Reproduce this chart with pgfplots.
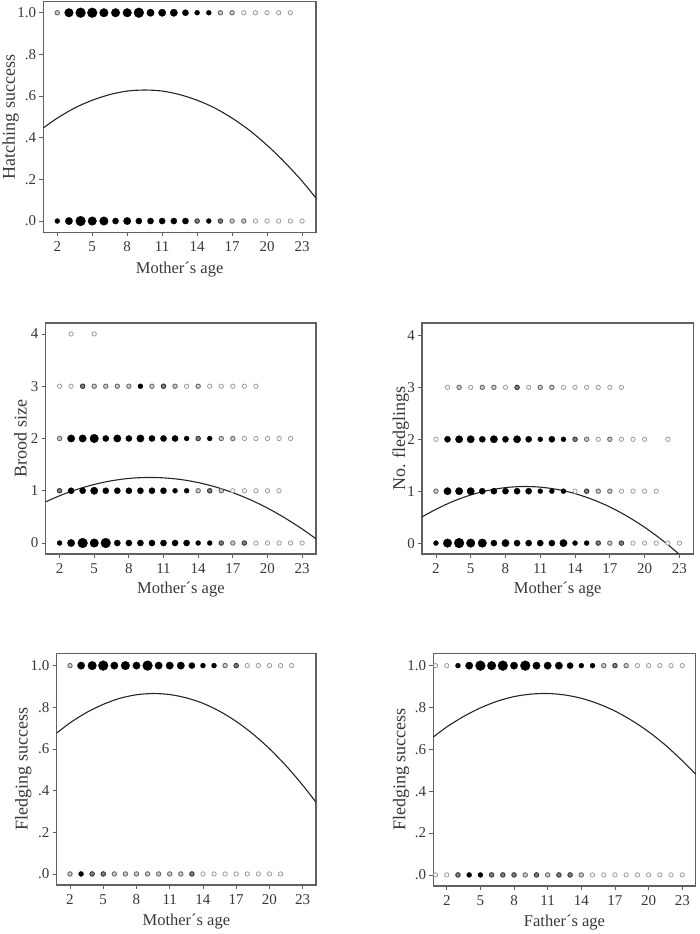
\documentclass[border=0pt]{standalone}
\usepackage{fontspec}
\setmainfont{Liberation Serif}
\usepackage{pgfplots}
\pgfplotsset{compat=1.18}

\definecolor{axgray}{gray}{0.38}
\definecolor{txtgray}{gray}{0.22}
\definecolor{ga}{gray}{0.58}
\definecolor{gaf}{gray}{0.98}
\definecolor{gb}{gray}{0.4}
\definecolor{gbf}{gray}{0.8}
\definecolor{gc}{gray}{0.2}
\definecolor{gcf}{gray}{0.5}

\tikzset{
  bub1/.style={mark size=2.2pt, draw=ga, fill=gaf, line width=0.7pt},
  bub2/.style={mark size=2.25pt, draw=gb, fill=gbf, line width=0.85pt},
  bub3/.style={mark size=2.3pt, draw=gc, fill=gcf, line width=0.85pt},
  bub4/.style={mark size=2.5pt, draw=black, fill=black, line width=0.3pt},
  bub5/.style={mark size=3.1pt, draw=black, fill=black, line width=0.3pt},
  bub6/.style={mark size=3.7pt, draw=black, fill=black, line width=0.3pt},
  bub7/.style={mark size=4.3pt, draw=black, fill=black, line width=0.3pt},
  bub8/.style={mark size=4.9pt, draw=black, fill=black, line width=0.3pt},
}
\pgfplotsset{
  bubbles/.style={
    scatter, only marks, mark=*,
    point meta=\thisrow{c},
    visualization depends on={value \thisrow{c}\as\bubc},
    scatter/@pre marker code/.code={\edef\bubtmp{\noexpand\scope[bub\bubc]}\bubtmp},
    scatter/@post marker code/.code={\endscope},
  },
  fit/.style={smooth, no marks, draw=black!85, line width=1.1pt},
  panel/.style={
    scale only axis, anchor=south west,
    xmin=0.8, xmax=24.2,
    xtick={2,5,...,23},
    axis line style={draw=axgray, line width=1.3pt},
    tick style={draw=axgray, line width=0.8pt},
    tick align=outside, major tick length=4pt,
    xtick pos=bottom, ytick pos=left,
    /pgf/number format/assume math mode=true,
    ticklabel style={font=\fontsize{15}{15}\selectfont, text=txtgray},
    xticklabel style={anchor=north, inner sep=0pt, yshift=-5pt},
    yticklabel style={anchor=east, inner sep=0pt, xshift=-3pt},
  },
  xl/.style={every axis x label/.style={at={([yshift=-#1]axis description cs:0.5,0)}, anchor=base, font=\fontsize{16.5}{16.5}\selectfont, text=txtgray}},
  yl/.style={every axis y label/.style={at={([xshift=-#1]axis description cs:0,0.5)}, rotate=90, anchor=base, font=\fontsize{18}{18}\selectfont, text=txtgray}},
}

\begin{document}
\begin{tikzpicture}
\useasboundingbox (0,0) rectangle (700pt,934pt);

% ---------- Panel 1: Hatching success ----------
\begin{axis}[panel, at={(43.3pt,701.5pt)}, width=272.7pt, height=231pt,
  ymin=-0.055, ymax=1.054, ytick={0,0.2,0.4,0.6,0.8,1}, yticklabels={.0,.2,.4,.6,.8,1.0},
  xlabel={Mother´s age}, xl=41pt,
  ylabel={Hatching success}, yl=28.5pt]
\addplot[bubbles] table[row sep=\\] {
x y c\\
2 1 2\\ 3 1 7\\ 4 1 8\\ 5 1 8\\ 6 1 7\\ 7 1 7\\ 8 1 7\\ 9 1 8\\ 10 1 6\\ 11 1 6\\ 12 1 6\\ 13 1 5\\ 14 1 4\\ 15 1 4\\ 16 1 2\\ 17 1 2\\ 18 1 1\\ 19 1 1\\ 20 1 1\\ 21 1 1\\ 22 1 1\\
2 0 4\\ 3 0 6\\ 4 0 8\\ 5 0 7\\ 6 0 7\\ 7 0 5\\ 8 0 6\\ 9 0 5\\ 10 0 5\\ 11 0 5\\ 12 0 5\\ 13 0 5\\ 14 0 3\\ 15 0 4\\ 16 0 3\\ 17 0 2\\ 18 0 2\\ 19 0 1\\ 20 0 1\\ 21 0 1\\ 22 0 1\\ 23 0 1\\
};
\addplot[fit] coordinates {(0.8,0.447) (2,0.494) (3.5,0.543) (5,0.580) (6.5,0.607) (8,0.624) (9.5,0.629) (11,0.624) (12.5,0.607) (14,0.580) (15.5,0.543) (17,0.494) (18.5,0.435) (20,0.364) (21.5,0.283) (23,0.192) (24.2,0.110)};
\end{axis}

% ---------- Panel 2: Brood size ----------
\begin{axis}[panel, at={(45.7pt,380pt)}, width=270.3pt, height=231pt,
  ymin=-0.21, ymax=4.21, ytick={0,1,2,3,4},
  xlabel={Mother´s age}, xl=40pt,
  ylabel={Brood size}, yl=19pt]
\addplot[bubbles] table[row sep=\\] {
x y c\\
3 4 1\\ 5 4 1\\
2 3 1\\ 3 3 1\\ 4 3 3\\ 5 3 2\\ 6 3 2\\ 7 3 2\\ 8 3 2\\ 9 3 4\\ 10 3 2\\ 11 3 3\\ 12 3 2\\ 13 3 1\\ 14 3 2\\ 15 3 1\\ 16 3 1\\ 17 3 1\\ 18 3 1\\ 19 3 1\\
2 2 2\\ 3 2 6\\ 4 2 6\\ 5 2 7\\ 6 2 5\\ 7 2 6\\ 8 2 5\\ 9 2 6\\ 10 2 5\\ 11 2 5\\ 12 2 5\\ 13 2 4\\ 14 2 3\\ 15 2 4\\ 16 2 2\\ 17 2 2\\ 18 2 1\\ 19 2 1\\ 20 2 1\\ 21 2 1\\ 22 2 1\\
2 1 3\\ 3 1 5\\ 4 1 5\\ 5 1 6\\ 6 1 5\\ 7 1 5\\ 8 1 5\\ 9 1 5\\ 10 1 5\\ 11 1 5\\ 12 1 4\\ 13 1 4\\ 14 1 2\\ 15 1 3\\ 16 1 2\\ 17 1 1\\ 18 1 1\\ 19 1 1\\ 20 1 1\\ 21 1 1\\
2 0 4\\ 3 0 6\\ 4 0 8\\ 5 0 7\\ 6 0 8\\ 7 0 5\\ 8 0 5\\ 9 0 5\\ 10 0 5\\ 11 0 5\\ 12 0 5\\ 13 0 5\\ 14 0 4\\ 15 0 4\\ 16 0 3\\ 17 0 2\\ 18 0 3\\ 19 0 1\\ 20 0 1\\ 21 0 1\\ 22 0 1\\ 23 0 1\\
};
\addplot[fit] coordinates {(0.8,0.788) (2,0.904) (3.5,1.025) (5,1.121) (6.5,1.191) (8,1.236) (9.5,1.254) (11,1.247) (12.5,1.215) (14,1.157) (15.5,1.073) (17,0.964) (18.5,0.829) (20,0.668) (21.5,0.481) (23,0.269) (24.2,0.081)};
\end{axis}

% ---------- Panel 3: No. fledglings ----------
\begin{axis}[panel, at={(422pt,380pt)}, width=271.3pt, height=231pt,
  ymin=-0.21, ymax=4.24, ytick={0,1,2,3,4},
  xlabel={Mother´s age}, xl=40pt,
  ylabel={No. fledglings}, yl=17pt]
\addplot[bubbles] table[row sep=\\] {
x y c\\
3 3 1\\ 4 3 2\\ 5 3 1\\ 6 3 2\\ 7 3 2\\ 8 3 1\\ 9 3 3\\ 10 3 1\\ 11 3 2\\ 12 3 2\\ 13 3 1\\ 14 3 1\\ 15 3 1\\ 16 3 1\\ 17 3 1\\ 18 3 1\\
2 2 1\\ 3 2 5\\ 4 2 6\\ 5 2 6\\ 6 2 5\\ 7 2 6\\ 8 2 5\\ 9 2 6\\ 10 2 5\\ 11 2 4\\ 12 2 5\\ 13 2 4\\ 14 2 3\\ 15 2 2\\ 16 2 1\\ 17 2 2\\ 18 2 1\\ 19 2 1\\ 20 2 1\\ 22 2 1\\
2 1 2\\ 3 1 6\\ 4 1 6\\ 5 1 6\\ 6 1 5\\ 7 1 5\\ 8 1 5\\ 9 1 5\\ 10 1 5\\ 11 1 4\\ 12 1 4\\ 13 1 4\\ 14 1 1\\ 15 1 3\\ 16 1 2\\ 17 1 2\\ 18 1 1\\ 19 1 1\\ 20 1 1\\ 21 1 1\\
2 0 4\\ 3 0 7\\ 4 0 8\\ 5 0 7\\ 6 0 7\\ 7 0 5\\ 8 0 6\\ 9 0 5\\ 10 0 5\\ 11 0 5\\ 12 0 5\\ 13 0 6\\ 14 0 4\\ 15 0 4\\ 16 0 3\\ 17 0 2\\ 18 0 3\\ 19 0 1\\ 20 0 1\\ 21 0 1\\ 22 0 1\\ 23 0 1\\
};
\addplot[fit] coordinates {(0.8,0.504) (2,0.651) (3.5,0.806) (5,0.927) (6.5,1.014) (8,1.069) (9.5,1.090) (11,1.078) (12.5,1.032) (14,0.953) (15.5,0.841) (17,0.696) (18.5,0.517) (20,0.305) (21.5,0.060) (23,-0.219) (24.2,-0.466)};
\end{axis}

% ---------- Panel 4: Fledging success vs mother ----------
\begin{axis}[panel, at={(56.7pt,49pt)}, width=259.3pt, height=231.7pt,
  ymin=-0.053, ymax=1.059, ytick={0,0.2,0.4,0.6,0.8,1}, yticklabels={.0,.2,.4,.6,.8,1.0},
  xlabel={Mother´s age}, xl=40pt,
  ylabel={Fledging success}, yl=29pt]
\addplot[bubbles] table[row sep=\\] {
x y c\\
2 1 2\\ 3 1 6\\ 4 1 7\\ 5 1 8\\ 6 1 6\\ 7 1 7\\ 8 1 6\\ 9 1 8\\ 10 1 6\\ 11 1 6\\ 12 1 6\\ 13 1 5\\ 14 1 4\\ 15 1 4\\ 16 1 2\\ 17 1 3\\ 18 1 1\\ 19 1 1\\ 20 1 1\\ 21 1 1\\ 22 1 1\\
2 0 2\\ 3 0 4\\ 4 0 3\\ 5 0 3\\ 6 0 2\\ 7 0 2\\ 8 0 2\\ 9 0 2\\ 10 0 2\\ 11 0 2\\ 12 0 2\\ 13 0 3\\ 14 0 1\\ 15 0 1\\ 16 0 1\\ 17 0 1\\ 18 0 1\\ 19 0 1\\ 20 0 1\\ 21 0 1\\
};
\addplot[fit] coordinates {(0.8,0.676) (2,0.725) (3.5,0.775) (5,0.814) (6.5,0.843) (8,0.860) (9.5,0.866) (11,0.861) (12.5,0.845) (14,0.819) (15.5,0.781) (17,0.732) (18.5,0.672) (20,0.601) (21.5,0.519) (23,0.426) (24.2,0.344)};
\end{axis}

% ---------- Panel 5: Fledging success vs father ----------
\begin{axis}[panel, at={(433.3pt,48pt)}, width=262.4pt, height=232.7pt,
  ymin=-0.053, ymax=1.059, ytick={0,0.2,0.4,0.6,0.8,1}, yticklabels={.0,.2,.4,.6,.8,1.0},
  xlabel={Father´s age}, xl=40pt,
  ylabel={Fledging success}, yl=28pt]
\addplot[bubbles] table[row sep=\\] {
x y c\\
1 1 1\\ 2 1 1\\ 3 1 4\\ 4 1 6\\ 5 1 8\\ 6 1 7\\ 7 1 8\\ 8 1 6\\ 9 1 8\\ 10 1 6\\ 11 1 6\\ 12 1 6\\ 13 1 5\\ 14 1 4\\ 15 1 4\\ 16 1 2\\ 17 1 3\\ 18 1 2\\ 19 1 1\\ 20 1 1\\ 21 1 1\\ 22 1 1\\ 23 1 1\\
1 0 1\\ 2 0 1\\ 3 0 3\\ 4 0 4\\ 5 0 4\\ 6 0 3\\ 7 0 3\\ 8 0 3\\ 9 0 2\\ 10 0 3\\ 11 0 2\\ 12 0 3\\ 13 0 3\\ 14 0 2\\ 15 0 1\\ 16 0 1\\ 17 0 1\\ 18 0 1\\ 19 0 1\\ 20 0 1\\ 21 0 1\\ 22 0 1\\ 23 0 1\\
};
\addplot[fit] coordinates {(0.8,0.659) (2,0.707) (3.5,0.757) (5,0.798) (6.5,0.830) (8,0.852) (9.5,0.864) (11,0.867) (12.5,0.860) (14,0.844) (15.5,0.818) (17,0.783) (18.5,0.738) (20,0.684) (21.5,0.620) (23,0.546) (24.2,0.481)};
\end{axis}
\end{tikzpicture}
\end{document}
